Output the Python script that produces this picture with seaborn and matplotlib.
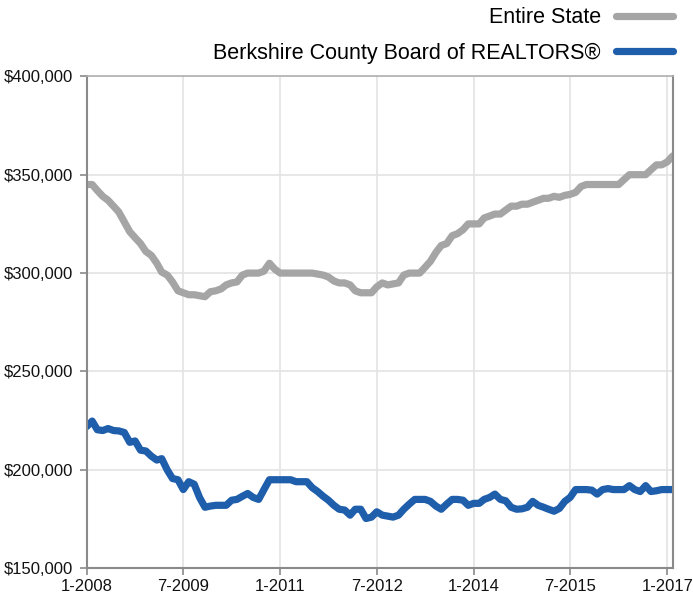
import numpy as np
import pandas as pd
import matplotlib
matplotlib.use("Agg")
import matplotlib.pyplot as plt
import seaborn as sns

months = pd.date_range("2008-01-01", periods=110, freq="MS")

entire_state = [
    345000, 345000, 342000, 339000, 337000, 334000, 331000, 326000, 321000, 318000,
    315000, 311000, 309000, 305000, 300500, 299000, 295500, 291000, 290000, 289000,
    289000, 288500, 288000, 290500, 291000, 292000, 294000, 295000, 295500, 299000,
    300000, 300000, 300000, 301000, 305000, 302000, 300000, 300000, 300000, 300000,
    300000, 300000, 300000, 299500, 299000, 298000, 296000, 295000, 295000, 294000,
    291000, 290000, 290000, 290000, 293000, 295000, 294000, 294500, 295000, 299000,
    300000, 300000, 300000, 303000, 306000, 310500, 314000, 315000, 319000, 320000,
    322000, 325000, 325000, 325000, 328000, 329000, 330000, 330000, 332000, 334000,
    334000, 335000, 335000, 336000, 337000, 338000, 338000, 339000, 338500, 339500,
    340000, 341000, 344000, 345000, 345000, 345000, 345000, 345000, 345000, 345000,
    347500, 350000, 350000, 350000, 350000, 352500, 355000, 355000, 356500, 359500,
]

berkshire = [
    222000, 224800, 220400, 220000, 221000, 220000, 219800, 219000, 214000, 214700,
    210000, 209600, 207000, 205000, 205700, 200000, 195600, 195000, 190000, 194000,
    192700, 186000, 181000, 181600, 182000, 182000, 182000, 184600, 185000, 186600,
    188000, 186000, 185000, 190000, 195000, 195000, 195000, 195000, 195000, 194000,
    194000, 194000, 191000, 189000, 186600, 184600, 182000, 180000, 179600, 177000,
    180000, 180000, 175300, 176000, 178700, 177000, 176500, 176000, 177000, 180000,
    182600, 185000, 185000, 185000, 184000, 181600, 180000, 182600, 185000, 185000,
    184600, 182000, 183000, 183000, 185000, 186000, 187700, 185000, 184300, 181000,
    180000, 180200, 181000, 184000, 182000, 181000, 180000, 179000, 180400, 184000,
    186000, 190000, 190000, 190000, 189700, 187700, 190000, 190500, 190000, 190000,
    190000, 192000, 190000, 189000, 192000, 189000, 189400, 190000, 190000, 190000,
]

series_names = ["Entire State", "Berkshire County Board of REALTORS®"]
series_colors = ["#a5a5a5", "#1f5eab"]

xtick_dates = ["2008-01-01", "2009-07-01", "2011-01-01", "2012-07-01",
               "2014-01-01", "2015-07-01", "2017-01-01"]
xtick_labels = ["1-2008", "7-2009", "1-2011", "7-2012", "1-2014", "7-2015", "1-2017"]
ytick_values = [150000, 200000, 250000, 300000, 350000, 400000]
ytick_labels = ["$150,000", "$200,000", "$250,000", "$300,000", "$350,000", "$400,000"]

df = pd.DataFrame({
    "month": list(months) * 2,
    "price": entire_state + berkshire,
    "series": [series_names[0]] * len(months) + [series_names[1]] * len(months),
})

sns.set_theme(style="white")
plt.rcParams["font.family"] = ["Liberation Sans", "DejaVu Sans"]
plt.rcParams["text.color"] = "#000000"

fig = plt.figure(figsize=(6.93, 5.96), dpi=100)
ax = fig.add_axes([0.1251, 0.0465, 0.8456, 0.8255])

sns.lineplot(data=df, x="month", y="price", hue="series",
             palette=dict(zip(series_names, series_colors)),
             linewidth=5.2, ax=ax, legend=False, solid_capstyle="round",
             solid_joinstyle="round")

ax.set_xlim(months[0], months[-1])
ax.set_ylim(150000, 400000)
ax.set_xticks(pd.to_datetime(xtick_dates))
ax.set_xticklabels(xtick_labels)
ax.set_yticks(ytick_values)
ax.set_yticklabels(ytick_labels)
ax.set_xlabel("")
ax.set_ylabel("")

ax.grid(True, color="#e3e3e3", linewidth=1.2)
ax.set_axisbelow(True)
for side in ["left", "bottom", "right"]:
    ax.spines[side].set_color("#8a8a8a")
    ax.spines[side].set_linewidth(1.5)
ax.spines["top"].set_color("#b0b0b0")
ax.spines["top"].set_linewidth(1.2)

ax.tick_params(axis="both", which="major", length=5, width=1.2, color="#8a8a8a",
               labelsize=12, labelcolor="#111111")
ax.tick_params(axis="x", bottom=True, pad=3)
ax.tick_params(axis="y", left=True, pad=5)

handles = [plt.Line2D([], [], color=c, linewidth=5.2, solid_capstyle="round")
           for c in series_colors]
fig.legend(handles, series_names, loc="upper right",
           bbox_to_anchor=(0.9836, 1.0025), frameon=False, markerfirst=False,
           fontsize=15.5, handlelength=2.65, handletextpad=0.7, labelspacing=0.67,
           borderaxespad=0.0, labelcolor="#000000")

fig.savefig("out.png", dpi=100)
